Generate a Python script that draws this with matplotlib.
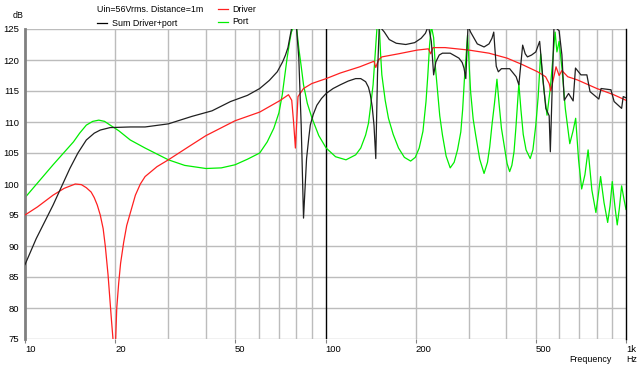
import numpy as np
import matplotlib
matplotlib.use('Agg')
import matplotlib.pyplot as plt
from matplotlib.lines import Line2D

plt.rcParams['font.family'] = ['Liberation Sans', 'DejaVu Sans']

# Driver (red)
driver_f = [10, 11, 12.4, 13.5, 14.7, 15.4, 16.0, 16.6, 17.0, 17.4, 17.8, 18.2, 18.5, 18.9, 19.4, 19.7,
            20.0, 20.2, 20.5, 20.8, 21.3, 21.8, 22.4, 23.3, 24.2, 25.1, 27.5, 30, 35, 40, 50, 60.4,
            70.8, 75.3, 77.2, 78.3, 79.4, 80.2, 81, 84.5, 90, 100.5, 112, 130, 145, 147, 150, 154, 175,
            202, 220, 224, 228, 250, 300, 350, 402, 450, 508, 540, 555, 562, 585, 599,
            612, 640, 688, 800, 910, 1000]
driver_db = [95.0, 96.3, 98.2, 99.3, 100.0, 99.9, 99.4, 98.7, 97.8, 96.6, 95.0, 92.8, 90.0, 85.3, 78.0, 74.0,
             74.0, 80.0, 84.0, 87.2, 90.6, 93.3, 95.3, 98.2, 100.0, 101.2, 102.8, 103.9, 106.0, 107.8, 110.2, 111.6,
             113.5, 114.4, 113.5, 110.0, 105.8, 110.0, 114.1, 115.4, 116.2, 117.0, 117.9, 118.9, 119.8, 118.8, 120.0, 120.5, 121.0,
             121.6, 121.8, 121.0, 122.0, 122.0, 121.6, 121.1, 120.3, 119.3, 118.1, 117.3, 116.2, 115.0, 118.9, 117.5,
             118.3, 117.3, 116.8, 115.4, 114.4, 113.5]

# Port (green)
port_f = [10, 12.4, 14.5, 15.2, 16.0, 16.8, 17.6, 18.4, 19.2, 20.5, 22.4, 25.1, 30, 34, 40, 45, 50, 55,
          60.4, 64, 67.3, 70, 71.8, 73, 74.5, 76, 77.0, 78.5, 80, 81.5, 83, 84.5, 87, 90.2, 95, 100.5,
          108, 117, 126, 131, 136, 139, 141, 144, 146, 147.5, 148.5, 151, 152.5, 154, 158, 162, 168, 175, 183,
          192, 199, 205, 211, 216, 219, 222, 225, 229, 232, 236, 240, 245, 252, 260, 268, 275, 282,
          286, 290, 294, 297, 300, 304, 310, 316, 326, 337, 346, 352, 358, 365, 372, 378, 385, 393,
          402, 410, 417, 424, 430, 436, 440, 447, 455, 465, 480, 490, 501, 510, 520, 527, 534, 546,
          560, 571, 581, 589, 599, 612, 628, 650, 666, 680, 695, 712, 730, 748, 770, 794, 810, 823,
          845, 869, 885, 900, 918, 935, 950, 967, 985, 1000]
port_db = [97.8, 103.1, 106.8, 108.2, 109.5, 110.1, 110.3, 110.1, 109.5, 108.6, 107.1, 105.8, 103.9, 103.0, 102.5, 102.6, 103.1, 104.0,
           105.0, 106.8, 109.0, 111.5, 114.4, 117.0, 120.3, 123.0, 124.5, 125.5, 125.5, 121.9, 119.0, 116.0, 113.0, 110.6, 107.8, 105.8,
           104.4, 103.9, 104.7, 105.8, 107.9, 109.8, 112.2, 116.0, 120.3, 123.5, 125.5, 125.5, 121.0, 117.6, 113.5, 110.6, 108.0, 105.8, 104.3,
           103.7, 104.3, 105.8, 108.5, 113.3, 117.5, 122.4, 125.5, 123.6, 119.0, 114.9, 111.0, 107.9, 104.5, 102.6, 103.5, 105.5, 108.4,
           112.0, 117.0, 121.0, 124.0, 120.0, 114.9, 110.5, 107.9, 104.0, 101.7, 103.5, 106.0, 109.5, 113.0, 116.9, 113.0, 109.0, 106.3,
           103.3, 102.0, 103.0, 105.2, 109.0, 113.5, 116.2, 112.0, 108.0, 105.5, 104.1, 105.5, 109.5, 114.0, 121.0, 117.5, 114.9, 111.1,
           115.5, 120.3, 124.5, 121.3, 123.0, 118.7, 112.2, 106.5, 108.5, 110.6, 104.0, 99.2, 101.5, 105.5, 99.0, 95.4, 98.5, 101.2,
           97.0, 93.8, 96.5, 100.4, 96.5, 93.4, 96.0, 99.7, 97.5, 95.9]

# Sum Driver+port (black)
sum_f = [10, 10.9, 12.4, 14.1, 15.0, 16.0, 17.0, 17.8, 19.2, 22.4, 25.1, 30, 35.9, 41.9, 48.3, 55, 60.4,
         65, 69.1, 72, 73.6, 75, 76, 77.4, 80, 81.5, 83, 84.5, 86.5, 88, 89, 91, 93.6, 97, 100.5, 106,
         112, 119, 126, 131, 136, 139, 141, 143, 145, 147, 149, 151, 157, 163, 172, 185, 198, 208, 215,
         220, 225, 229, 233, 239, 245, 260, 278, 285, 289, 293, 298, 304, 320, 337, 350, 358, 363, 366,
         370, 376, 385, 410, 431, 440, 453, 462, 470, 485, 501, 516, 529, 541, 555, 560, 576, 599,
         612, 623, 644, 667, 679, 708, 741, 759, 812, 826, 891, 913, 967, 979, 1000]
sum_db = [87.0, 91.2, 96.6, 102.5, 105.0, 107.1, 108.2, 108.7, 109.1, 109.2, 109.2, 109.7, 110.9, 111.8, 113.3, 114.3, 115.4,
          116.7, 118.1, 119.7, 120.8, 122.0, 123.5, 125.5, 125.5, 120.3, 109.5, 94.5, 104.1, 107.5, 109.5, 111.2, 112.7, 113.8, 114.6, 115.4,
          116.0, 116.6, 117.0, 117.0, 116.5, 115.6, 114.4, 112.5, 109.5, 104.1, 118.0, 125.5, 124.5, 123.3, 122.7, 122.5, 122.8, 123.5, 124.3,
          125.5, 123.0, 117.6, 119.7, 120.8, 121.1, 121.1, 120.3, 119.6, 118.7, 117.0, 125.5, 124.5, 122.6, 122.1, 122.6, 123.5, 124.5, 122.0,
          119.0, 118.1, 118.6, 118.6, 117.3, 116.0, 122.4, 121.0, 120.5, 120.8, 121.3, 123.0, 117.0, 112.2, 111.0, 105.2, 125.5, 124.7,
          120.8, 113.5, 114.6, 113.4, 118.7, 117.6, 117.6, 114.9, 113.7, 115.4, 115.2, 113.3, 112.2, 114.1, 113.9]

xtick_vals = [10, 20, 50, 100, 200, 500, 1000]
xtick_labels = ['10', '20', '50', '100', '200', '500', '1k']
ytick_vals = list(range(75, 126, 5))

W, H = 639, 382
fig = plt.figure(figsize=(W / 100, H / 100), dpi=100)
ax = fig.add_axes([25 / W, 1 - 339 / H, 601 / W, 310 / H])

ax.set_xscale('log')
ax.set_xlim(10, 1000)
ax.set_ylim(75, 125)

# grid
grid_c = '#bcbcbc'
minor = [k * d for d in (10, 100) for k in range(2, 10)]
for f in minor:
    ax.axvline(f, color=grid_c, lw=1, zorder=1)
for v in ytick_vals:
    ax.axhline(v, color=grid_c, lw=1, zorder=1)
ax.axvline(100, color='black', lw=1, zorder=1)

ax.plot(driver_f, driver_db, color='#ff2020', lw=0.9, zorder=3)
ax.plot(port_f, port_db, color='#00ee00', lw=0.9, zorder=2)
ax.plot(sum_f, sum_db, color='#202020', lw=0.9, zorder=4)

for s in ['top', 'bottom']:
    ax.spines[s].set_visible(False)
ax.spines['left'].set_color('#808080')
ax.spines['left'].set_linewidth(2)
ax.spines['right'].set_color('black')
ax.spines['right'].set_linewidth(1)

fs = 6.4
ax.set_xticks(xtick_vals)
ax.set_xticklabels(xtick_labels, ha='left', fontsize=fs + 0.4)
ax.xaxis.set_minor_locator(matplotlib.ticker.NullLocator())
ax.tick_params(axis='x', length=3, color='#808080', pad=1.5)
ax.set_yticks(ytick_vals)
ax.set_yticklabels([str(v) for v in ytick_vals], fontsize=fs + 0.4)
ax.tick_params(axis='y', length=0, pad=4)

fig.text(13 / W, 1 - 16 / H, 'dB', fontsize=fs, va='center', ha='left')
fig.text(97 / W, 1 - 9 / H, 'Uin=56Vrms. Distance=1m', fontsize=fs, va='center', ha='left')
fig.text(112 / W, 1 - 23 / H, 'Sum Driver+port', fontsize=fs, va='center', ha='left')
fig.text(232 / W, 1 - 9 / H, 'Driver', fontsize=fs, va='center', ha='left')
fig.text(232 / W, 1 - 22 / H, 'Port', fontsize=fs, va='center', ha='left')
fig.text(569 / W, 1 - 360 / H, 'Frequency', fontsize=fs, va='center', ha='left')
fig.text(626 / W, 1 - 360 / H, 'Hz', fontsize=fs, va='center', ha='left')

for (x0, x1, y, c) in [(97, 107, 23, 'black'), (218, 228, 9, '#ff2020'), (218, 228, 22, '#00ee00')]:
    fig.add_artist(Line2D([x0 / W, x1 / W], [1 - y / H, 1 - y / H], color=c, lw=0.9))

fig.savefig('out.png', dpi=100)
